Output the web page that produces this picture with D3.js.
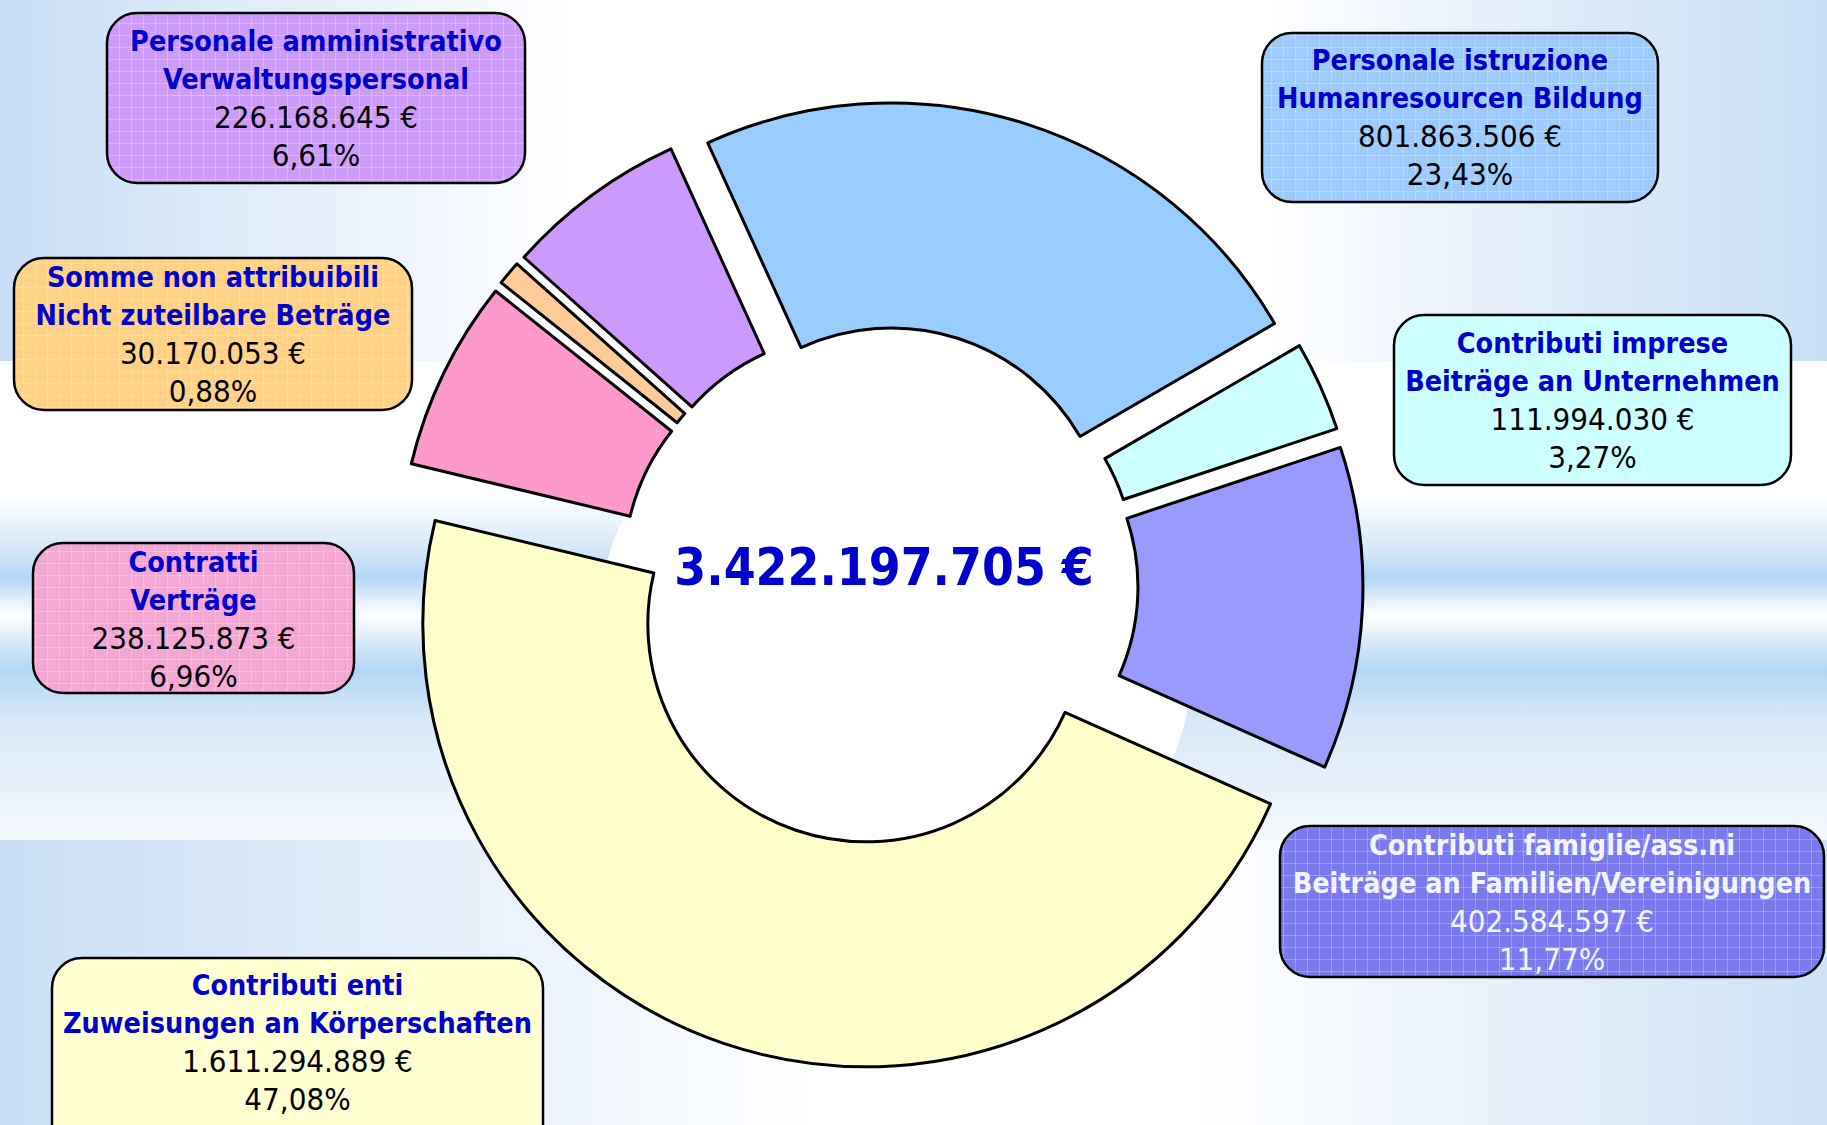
<!DOCTYPE html>
<meta charset='utf-8'>
<style>
    html, body {
        margin: 0;
        padding: 0;
        background: white;
    }

    svg {
        display: block;
    }

    .title {
        font-family: 'DejaVu Sans Condensed', 'DejaVu Sans', sans-serif;
        font-stretch: condensed;
        font-weight: bold;
        font-size: 28.5px;
    }

    .value {
        font-family: 'DejaVu Sans Condensed', 'DejaVu Sans', sans-serif;
        font-stretch: condensed;
        font-size: 31px;
    }

    .total {
        font-family: 'DejaVu Sans Condensed', 'DejaVu Sans', sans-serif;
        font-stretch: condensed;
        font-weight: bold;
        font-size: 51px;
        fill: #0000CC;
    }
</style>
<title>Spese per categoria</title>
<body>

<script src='https://d3js.org/d3.v7.min.js'></script>
<script>

	let width = 1827,
		height = 1125;

	// data, clockwise from the top
	let titlesIt = ['Personale istruzione', 'Contributi imprese', 'Contributi famiglie/ass.ni',
		'Contributi enti', 'Contratti', 'Somme non attribuibili', 'Personale amministrativo'];
	let titlesDe = ['Humanresourcen Bildung', 'Beiträge an Unternehmen', 'Beiträge an Familien/Vereinigungen',
		'Zuweisungen an Körperschaften', 'Verträge', 'Nicht zuteilbare Beträge', 'Verwaltungspersonal'];
	let values = [801863506, 111994030, 402584597, 1611294889, 238125873, 30170053, 226168645];
	let percentLabels = ['23,43%', '3,27%', '11,77%', '47,08%', '6,96%', '0,88%', '6,61%'];
	let totalLabel = '3.422.197.705 €';

	let sliceColors = ['#99CCFF', '#CCFFFF', '#9999FF', '#FFFFCC', '#FF99CC', '#FFCC99', '#CC99FF'];
	let boxColors = ['#9ECBFB', '#CCFFFF', '#7A7AEE', '#FFFFD2', '#F2A8D2', '#FFD288', '#CC9CF8'];
	let titleColors = ['#0000CC', '#0000CC', '#F4F4FF', '#0000CC', '#0000CC', '#0000CC', '#0000CC'];
	let valueColors = ['#000', '#000', '#F4F4FF', '#000', '#000', '#000', '#000'];

	// label boxes: x, y, w, h, first baseline
	let boxes = [
		[1262, 33, 396, 169, 37],
		[1394, 315, 397, 170, 38],
		[1280, 826, 544, 151, 29],
		[52, 958, 491, 200, 37],
		[33, 543, 321, 150, 29],
		[14, 258, 398, 152, 29],
		[107, 13, 418, 170, 38]
	];

	let cx = 879, cy = 585,
		outerR = 443, innerR = 218,
		explode = 41,
		lineStep = 38.3;

	let locale = d3.formatLocale({decimal: ',', thousands: '.', grouping: [3], currency: ['', ' €']});
	let euro = locale.format('$,');

	let svg = d3.select('body').append('svg')
		.attr('width', width)
		.attr('height', height);

	let defs = svg.append('defs');

	// background of the slide
	function linGrad(id, x2, y2, stops) {
		let g = defs.append('linearGradient')
			.attr('id', id)
			.attr('x1', 0).attr('y1', 0)
			.attr('x2', x2).attr('y2', y2);
		stops.forEach(function (s) {
			g.append('stop').attr('offset', s[0]).attr('stop-color', s[1]);
		});
	}

	linGrad('bgTopLeft', 1, 0, [[0, '#C7DDF5'], [0.35, '#DCEAF9'], [1, '#FFFFFF']]);
	linGrad('bgTopRight', 1, 0, [[0, '#FFFFFF'], [0.55, '#DDEBF9'], [1, '#C9DFF6']]);
	linGrad('bgBand', 0, 1, [[0, '#FFFFFF'], [0.15, '#D8E9F9'], [0.24, '#B2D6F4'], [0.3, '#E0EEFA'],
		[0.35, '#FFFFFF'], [0.43, '#D5E8F8'], [0.51, '#B2D6F4'], [0.65, '#D8E8F8'], [1, '#F4F8FC']]);
	linGrad('bgBottom', 1, 0, [[0, '#C9DEF5'], [0.45, '#FFFFFF'], [0.65, '#FFFFFF'], [1, '#CFE2F6']]);

	let bg = svg.append('g');
	bg.append('rect').attr('x', 0).attr('y', 0).attr('width', 580).attr('height', 361)
		.attr('fill', 'url(#bgTopLeft)');
	bg.append('rect').attr('x', 1260).attr('y', 0).attr('width', 567).attr('height', 361)
		.attr('fill', 'url(#bgTopRight)');
	bg.append('rect').attr('x', 0).attr('y', 495).attr('width', width).attr('height', 345)
		.attr('fill', 'url(#bgBand)');
	bg.append('rect').attr('x', 0).attr('y', 840).attr('width', width).attr('height', 285)
		.attr('fill', 'url(#bgBottom)');
	bg.append('circle').attr('cx', 895).attr('cy', 645).attr('r', 300)
		.attr('fill', '#FFFFFF');

	// fine grid texture on the boxes
	let grid = defs.append('pattern')
		.attr('id', 'grid')
		.attr('patternUnits', 'userSpaceOnUse')
		.attr('width', 12)
		.attr('height', 12);
	grid.append('path')
		.attr('d', 'M11.5 0V12M0 11.5H12')
		.attr('stroke', '#FFFFFF')
		.attr('stroke-opacity', 0.25)
		.attr('fill', 'none');

	// donut
	let pie = d3.pie()
		.sort(null)
		.startAngle(-24.5 * Math.PI / 180)
		.endAngle(-24.5 * Math.PI / 180 + 2 * Math.PI);

	let arc = d3.arc()
		.innerRadius(innerR)
		.outerRadius(outerR);

	let arcs = pie(values);

	svg.append('g')
		.attr('transform', 'translate(' + cx + ',' + cy + ')')
		.selectAll('path')
		.data(arcs)
		.enter().append('path')
		.attr('transform', function (d) {
			let mid = (d.startAngle + d.endAngle) / 2;
			return 'translate(' + (Math.sin(mid) * explode) + ',' + (-Math.cos(mid) * explode) + ')';
		})
		.attr('d', arc)
		.attr('fill', function (d, i) {
			return sliceColors[i];
		})
		.attr('stroke', '#000')
		.attr('stroke-width', 3)
		.attr('stroke-linejoin', 'round');

	svg.append('text')
		.attr('class', 'total')
		.attr('x', 884)
		.attr('y', 585)
		.attr('text-anchor', 'middle')
		.text(totalLabel);

	// label boxes
	let box = svg.selectAll('.box')
		.data(values)
		.enter().append('g')
		.attr('class', 'box');

	box.append('rect')
		.attr('x', function (d, i) { return boxes[i][0]; })
		.attr('y', function (d, i) { return boxes[i][1]; })
		.attr('width', function (d, i) { return boxes[i][2]; })
		.attr('height', function (d, i) { return boxes[i][3]; })
		.attr('rx', 30)
		.attr('fill', function (d, i) { return boxColors[i]; });

	box.append('rect')
		.attr('x', function (d, i) { return boxes[i][0]; })
		.attr('y', function (d, i) { return boxes[i][1]; })
		.attr('width', function (d, i) { return boxes[i][2]; })
		.attr('height', function (d, i) { return boxes[i][3]; })
		.attr('rx', 30)
		.attr('fill', 'url(#grid)')
		.attr('stroke', '#000')
		.attr('stroke-width', 2.5);

	box.each(function (d, i) {
		let b = boxes[i],
			g = d3.select(this),
			x = b[0] + b[2] / 2;
		let lines = [titlesIt[i], titlesDe[i], euro(d), percentLabels[i]];
		lines.forEach(function (t, k) {
			g.append('text')
				.attr('class', k < 2 ? 'title' : 'value')
				.attr('x', x)
				.attr('y', b[1] + b[4] + k * lineStep)
				.attr('text-anchor', 'middle')
				.attr('fill', k < 2 ? titleColors[i] : valueColors[i])
				.text(t);
		});
	});

</script>
</body>
